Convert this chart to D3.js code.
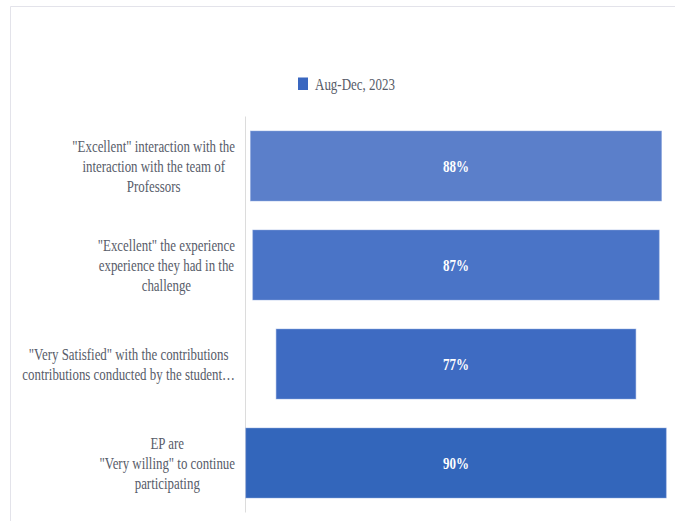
<!DOCTYPE html>
<html>
<head>
<meta charset="utf-8">
<script src="https://cdn.jsdelivr.net/npm/d3@7/dist/d3.min.js"></script>
<style>
  html, body { margin: 0; padding: 0; background: #ffffff; }
  svg { display: block; }
</style>
</head>
<body>
<svg id="chart" width="675" height="521"></svg>
<script>
// ---- data ----
const seriesName = "Aug-Dec, 2023";
const categories = ["cat1", "cat2", "cat3", "cat4"];
const categoryLabels = [
  ["\"Excellent\" interaction with the", "interaction with the team of", "Professors"],
  ["\"Excellent\" the experience", "experience they had in the", "challenge"],
  ["\"Very Satisfied\" with the contributions", "contributions conducted by the student…"],
  ["EP are", "\"Very willing\" to continue", "participating"]
];
const values = [88, 87, 77, 90];

// ---- styling constants ----
const barColors = ["#5b7fca", "#4a74c7", "#3e6bc2", "#3366bb"];
const legendColor = "#3a67c0";
const textColor = "#575c69";
const fontFamily = "'Liberation Serif', 'Times New Roman', Times, serif";
const vScale = 1.3;

const svg = d3.select("#chart");

// card border
svg.append("path")
  .attr("d", "M10.5,521 L10.5,6.5 L675,6.5")
  .attr("fill", "none")
  .attr("stroke", "#e3e3ea")
  .attr("stroke-width", 1);

const plotLeft = 245.5;
const centerX = 456;
const y = d3.scaleBand()
  .domain(categories)
  .range([116.5, 512.5])
  .paddingInner(0.293)
  .paddingOuter(0.1465);

const w = d3.scaleLinear().domain([0, 90]).range([0, 420.5]);

// axis line
svg.append("line")
  .attr("x1", plotLeft).attr("x2", plotLeft)
  .attr("y1", y.range()[0]).attr("y2", y.range()[1])
  .attr("stroke", "#dcdcdc").attr("stroke-width", 1);

// bars
svg.append("g").selectAll("rect")
  .data(values)
  .join("rect")
  .attr("x", d => centerX - w(d) / 2)
  .attr("y", (d, i) => y(categories[i]))
  .attr("width", d => w(d))
  .attr("height", y.bandwidth())
  .attr("fill", (d, i) => barColors[i])
  .attr("stroke", "#8fa9e0")
  .attr("stroke-opacity", 0.6)
  .attr("stroke-width", 0.8);

// value labels
svg.append("g").selectAll("text")
  .data(values)
  .join("text")
  .attr("transform", (d, i) => `translate(${centerX},${y(categories[i]) + y.bandwidth() / 2 + 5.5}) scale(1,${vScale})`)
  .attr("text-anchor", "middle")
  .attr("font-family", fontFamily)
  .attr("font-weight", "bold")
  .attr("font-size", 13)
  .attr("fill", "#ffffff")
  .text(d => d + "%");

// category labels: block right-aligned, lines centred within block
const labelRight = 235;
const lineGap = 20;
categoryLabels.forEach((lines, i) => {
  const g = svg.append("g");
  const cy = y(categories[i]) + y.bandwidth() / 2;
  const texts = lines.map((ln, j) => g.append("text")
    .attr("font-family", fontFamily)
    .attr("font-size", 12.9)
    .attr("fill", textColor)
    .attr("text-anchor", "middle")
    .text(ln));
  const maxW = d3.max(texts, t => t.node().getComputedTextLength());
  const cx = labelRight - maxW / 2;
  texts.forEach((t, j) => {
    const ly = cy + (j - (lines.length - 1) / 2) * lineGap + 5.5;
    t.attr("transform", `translate(${cx},${ly}) scale(1,${vScale})`);
  });
});

// legend
svg.append("rect")
  .attr("x", 298).attr("y", 77.5)
  .attr("width", 10).attr("height", 12.5)
  .attr("fill", legendColor);
svg.append("text")
  .attr("transform", `translate(315,89.5) scale(1,${vScale})`)
  .attr("font-family", fontFamily)
  .attr("font-size", 13)
  .attr("fill", textColor)
  .text(seriesName);
</script>
</body>
</html>
